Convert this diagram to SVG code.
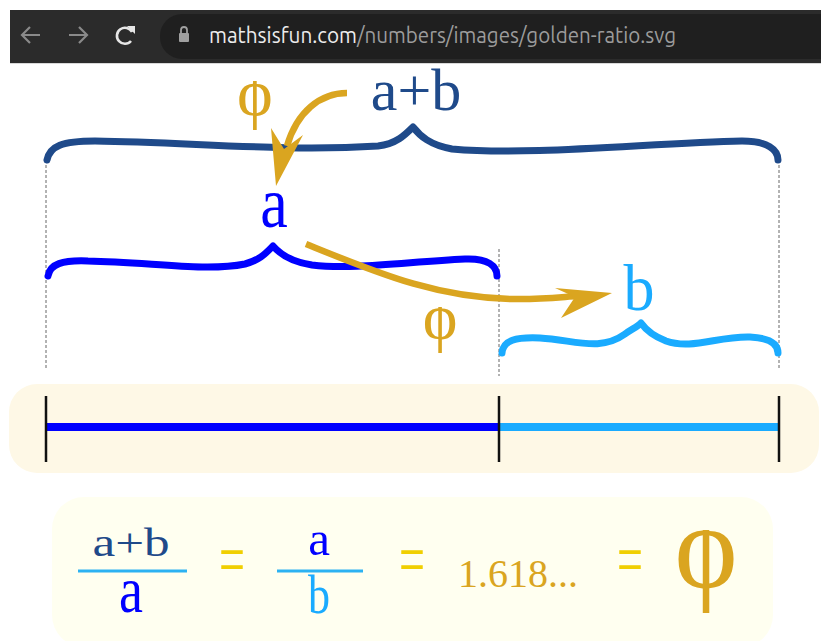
<svg xmlns="http://www.w3.org/2000/svg" width="821" height="641" viewBox="0 0 821 641">
<defs>
<style>
.serif{font-family:"Liberation Serif","Times New Roman",serif;}
.dot{stroke:#666;stroke-width:1;stroke-dasharray:3 2;fill:none;}
.brace{fill:none;stroke-width:7;stroke-linecap:round;stroke-linejoin:round;}
.gold{fill:#daa520;}
.shaft{fill:none;stroke:#daa520;stroke-width:6.5;}
.eq{fill:#f0cf00;}
.frac{stroke:#2cb2f2;stroke-width:3;}
</style>
<clipPath id="clip-phi1"><rect x="200" y="81" width="110" height="70"/></clipPath>
<clipPath id="clip-phi2"><rect x="390" y="307" width="100" height="70"/></clipPath>
<clipPath id="clip-phi3"><rect x="640" y="530" width="140" height="110"/></clipPath>
</defs>
<rect width="821" height="641" fill="#ffffff"/>
<g id="browser-bar">
<rect x="10" y="10" width="811" height="54" fill="#2b2b2b"/>
<rect x="160" y="14" width="700" height="45" rx="22" fill="#1f1f1f"/>
<rect x="10" y="63" width="811" height="1" fill="#d8d8d8"/>
<path d="M40,35 H22 M30,27 L22,35 L30,43" fill="none" stroke="#8a8a8a" stroke-width="2.2"/>
<path d="M69,35 H87 M79,27 L87,35 L79,43" fill="none" stroke="#8a8a8a" stroke-width="2.2"/>
<path d="M132,32 A8,8 0 1 0 131,41" fill="none" stroke="#e6e6e6" stroke-width="2.6"/>
<path d="M127,26 L135,26 L135,34 Z" fill="#e6e6e6"/>
<rect x="179" y="33" width="10" height="9" rx="1" fill="#a0a0a0"/>
<path d="M181,33 V30 A3,3 0 0 1 187,30 V33" fill="none" stroke="#a0a0a0" stroke-width="1.8"/>
<text x="209" y="43" font-family="Ubuntu,'Liberation Sans',sans-serif" font-size="22" fill="#ececec" textLength="148" lengthAdjust="spacingAndGlyphs">mathsisfun.com</text>
<text x="357" y="43" font-family="Ubuntu,'Liberation Sans',sans-serif" font-size="22" fill="#9c9c9c" textLength="319" lengthAdjust="spacingAndGlyphs">/numbers/images/golden-ratio.svg</text>
</g>
<g id="guides">
<line class="dot" x1="46" y1="165" x2="46" y2="370"/>
<line class="dot" x1="779" y1="165" x2="779" y2="370"/>
<line class="dot" x1="499" y1="249" x2="499" y2="376"/>
</g>
<g id="brace-ab">
<path class="brace" stroke="#1f4a8a" d="M47,160 C50,146 62,141 95,141 C190,142 280,152 378,146 C396,144 405,135 413,127 C420,136 430,145 452,149 C530,156 650,143 742,141 C768,141 778,150 778,160"/>
<text class="serif" x="416" y="110" font-size="60" text-anchor="middle" fill="#1f4a8a">a+b</text>
</g>
<g id="brace-a">
<path class="brace" stroke="#0000ff" d="M48,276 C50,264 62,260 88,261 C150,262 205,272 245,264 C260,260 266,253 273,246 C280,254 292,262 312,265 C352,270 405,262 465,259 C488,258 497,266 497,276"/>
<text class="serif" transform="translate(274,227) scale(1,1.15)" font-size="62" text-anchor="middle" fill="#0000ff">a</text>
</g>
<g id="brace-b">
<path class="brace" stroke="#1aabff" d="M502,353 C503,340 516,337 540,338 C575,340 600,352 625,334 C632,329 637,327 641,323 C646,330 653,336 666,341 C692,350 718,336 750,337 C770,338 778,344 778,353"/>
<text class="serif" transform="translate(639,310) scale(1,1.07)" font-size="62" text-anchor="middle" fill="#1aabff">b</text>
</g>
<g id="connectors">
<path class="shaft" d="M347,93 C320,93 297,112 287,146"/>
<polygon class="gold" points="276,186 271,128 284,149 303,135"/>
<text class="serif gold" x="255" y="116" font-size="68" text-anchor="middle" clip-path="url(#clip-phi1)">ϕ</text>
<path class="shaft" d="M306,244 C375,272 440,300 520,299 C545,299 562,297 578,296"/>
<polygon class="gold" points="612,293 555,288 575,297 561,318"/>
<text class="serif gold" x="440" y="339" font-size="66" text-anchor="middle" clip-path="url(#clip-phi2)">ϕ</text>
</g>
<g id="segment-bar">
<rect x="9" y="384" width="810" height="89" rx="28" fill="#fef8e6"/>
<line x1="46" y1="427" x2="499" y2="427" stroke="#0000ff" stroke-width="8"/>
<line x1="499" y1="427" x2="779" y2="427" stroke="#1aabff" stroke-width="8"/>
<line x1="46" y1="396" x2="46" y2="462" stroke="#111" stroke-width="2.5"/>
<line x1="499" y1="396" x2="499" y2="462" stroke="#111" stroke-width="2.5"/>
<line x1="779" y1="396" x2="779" y2="462" stroke="#111" stroke-width="2.5"/>
</g>
<g id="equation">
<rect x="52" y="497" width="721" height="150" rx="32" fill="#fffff0"/>
<text class="serif" transform="translate(131,556) scale(1.28,1)" font-size="40" text-anchor="middle" fill="#1f4a8a">a+b</text>
<line class="frac" x1="78" y1="571" x2="187" y2="571"/>
<text class="serif" transform="translate(131,612) scale(1,1.2)" font-size="54" text-anchor="middle" fill="#0000ff">a</text>
<text class="serif eq" transform="translate(232,584) scale(1,1.6)" font-size="46" text-anchor="middle">=</text>
<text class="serif" x="319" y="555" font-size="49" text-anchor="middle" fill="#0000ff">a</text>
<line class="frac" x1="277" y1="571" x2="363" y2="571"/>
<text class="serif" transform="translate(319,613) scale(1,1.27)" font-size="44" text-anchor="middle" fill="#1aabff">b</text>
<text class="serif eq" transform="translate(412,584) scale(1,1.6)" font-size="46" text-anchor="middle">=</text>
<text class="serif gold" x="458" y="587" font-size="40">1.618...</text>
<text class="serif eq" transform="translate(630,584) scale(1,1.6)" font-size="46" text-anchor="middle">=</text>
<text class="serif gold" x="706" y="587" font-size="120" text-anchor="middle" clip-path="url(#clip-phi3)">ϕ</text>
</g>
</svg>
